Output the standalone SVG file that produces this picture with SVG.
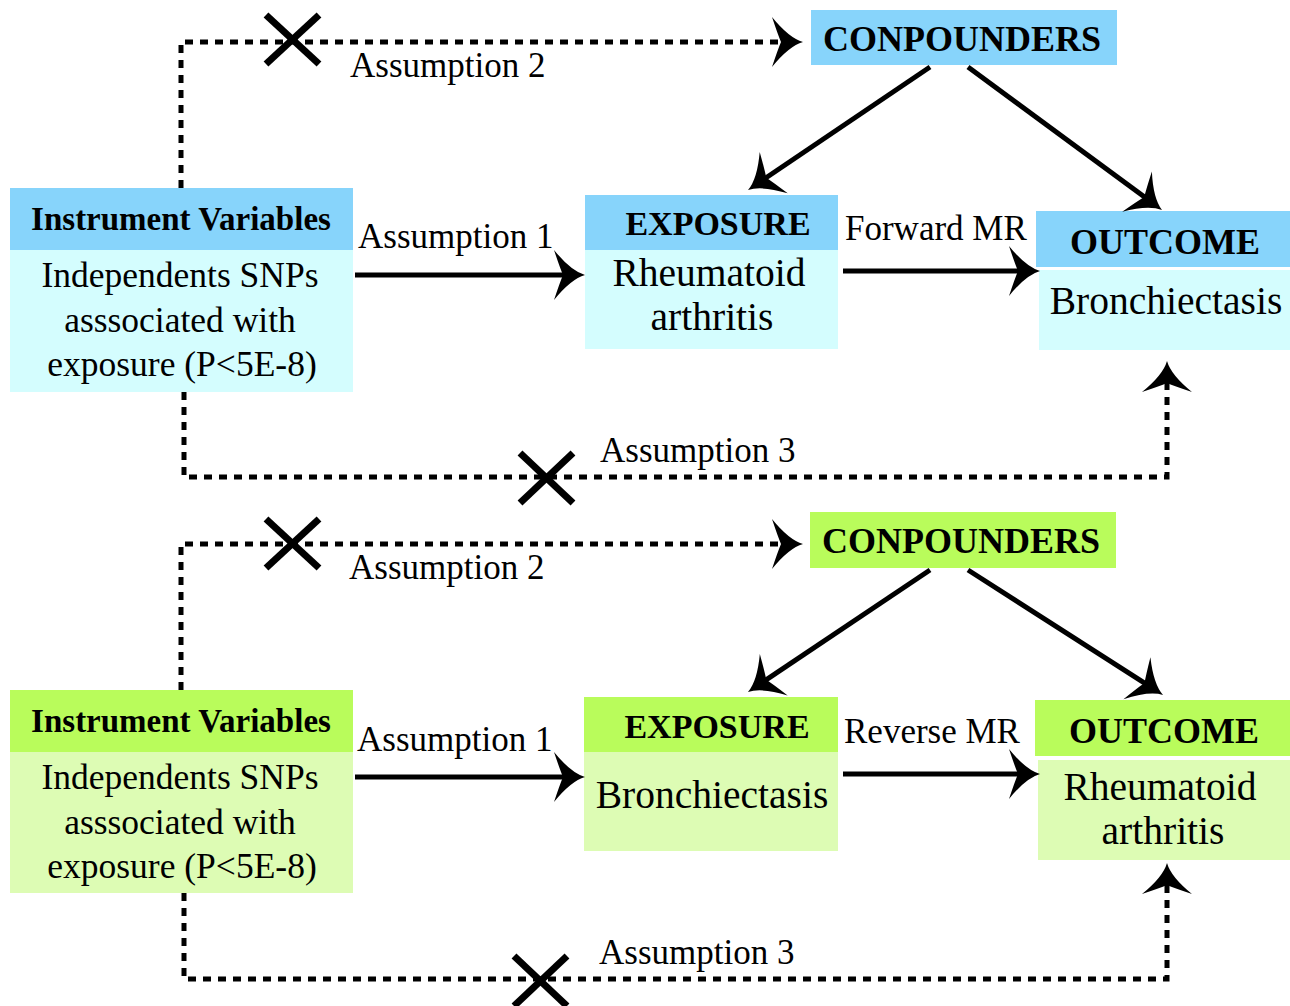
<svg xmlns="http://www.w3.org/2000/svg" width="1290" height="1006" viewBox="0 0 1290 1006">
<style>
.hb{fill:#87d4fb}.bb{fill:#d4fdfe}.hg{fill:#b9fc5b}.bg{fill:#ddfcb4}
text{font-family:"Liberation Serif","DejaVu Serif",serif;fill:#000}
.h{font-weight:bold;font-size:34px;text-anchor:middle}
.b{font-size:35.5px;text-anchor:middle}
.b2{font-size:39.5px;text-anchor:middle}
.l{font-size:35px}
.s{stroke:#000;stroke-width:5;fill:none}
.d{stroke:#000;stroke-width:5;fill:none;stroke-dasharray:8 7}
.x{stroke:#000;stroke-width:7}
</style>
<defs>
<marker id="ah" markerUnits="userSpaceOnUse" markerWidth="40" markerHeight="56" viewBox="-34 -28 40 56" refX="-20" refY="0" orient="auto">
<path d="M0,0 Q-14,-4 -31,-25 Q-25,-7 -22,0 Q-25,7 -31,25 Q-14,4 0,0 Z" fill="#000"/>
</marker>
</defs>

<!-- TOP -->
<g id="iv1"><rect class="hb" x="10" y="188" width="343" height="62"/><rect class="bb" x="10" y="250" width="343" height="142"/>
<text class="h" x="181" y="230" style="font-size:33px">Instrument Variables</text>
<text class="b" x="180" y="287">Independents SNPs</text><text class="b" x="180" y="332">asssociated with</text><text class="b" x="182" y="376">exposure (P&lt;5E-8)</text></g>
<g id="exp1"><rect class="hb" x="585" y="195" width="253" height="55"/><rect class="bb" x="585" y="250" width="253" height="99"/>
<text class="h" x="718" y="235">EXPOSURE</text><text class="b2" x="709" y="286">Rheumatoid</text><text class="b2" x="712" y="330">arthritis</text></g>
<g id="conf1"><rect class="hb" x="811" y="10" width="306" height="55"/><text class="h" x="962" y="51" style="font-size:36px">CONPOUNDERS</text></g>
<g id="out1"><rect class="hb" x="1036" y="211" width="254" height="56"/><rect class="bb" x="1039" y="270" width="251" height="80"/>
<text class="h" x="1165" y="254" style="font-size:36px">OUTCOME</text><text class="b2" x="1166" y="314">Bronchiectasis</text></g>

<!-- BOTTOM -->
<g id="iv2"><rect class="hg" x="10" y="690" width="343" height="62"/><rect class="bg" x="10" y="752" width="343" height="141"/>
<text class="h" x="181" y="732" style="font-size:33px">Instrument Variables</text>
<text class="b" x="180" y="789">Independents SNPs</text><text class="b" x="180" y="834">asssociated with</text><text class="b" x="182" y="878">exposure (P&lt;5E-8)</text></g>
<g id="exp2"><rect class="hg" x="584" y="697" width="254" height="55"/><rect class="bg" x="584" y="752" width="254" height="99"/>
<text class="h" x="717" y="738">EXPOSURE</text><text class="b2" x="712" y="808">Bronchiectasis</text></g>
<g id="conf2"><rect class="hg" x="810" y="512" width="306" height="56"/><text class="h" x="961" y="553" style="font-size:36px">CONPOUNDERS</text></g>
<g id="out2"><rect class="hg" x="1035" y="700" width="255" height="56"/><rect class="bg" x="1038" y="760" width="252" height="100"/>
<text class="h" x="1164" y="743" style="font-size:36px">OUTCOME</text><text class="b2" x="1160" y="800">Rheumatoid</text><text class="b2" x="1163" y="844">arthritis</text></g>

<g id="connectors">
<path class="d" d="M181,188 V42 H783" marker-end="url(#ah)"/>
<path class="d" d="M184,392 V477 H1167 V381" marker-end="url(#ah)"/>
<path class="s" d="M355,275 H565" marker-end="url(#ah)"/>
<path class="s" d="M843,271 H1020" marker-end="url(#ah)"/>
<path class="s" d="M930,67 L764.6,178.8" marker-end="url(#ah)"/>
<path class="s" d="M968,67 L1145.9,198.1" marker-end="url(#ah)"/>
<line class="x" x1="266" y1="15" x2="319" y2="64"/><line class="x" x1="319" y1="15" x2="266" y2="64"/>
<line class="x" x1="520" y1="453" x2="573" y2="503"/><line class="x" x1="573" y1="453" x2="520" y2="503"/>

<path class="d" d="M181,690 V544 H783" marker-end="url(#ah)"/>
<path class="d" d="M184,893 V979 H1167 V883" marker-end="url(#ah)"/>
<path class="s" d="M355,777 H565" marker-end="url(#ah)"/>
<path class="s" d="M843,774 H1020" marker-end="url(#ah)"/>
<path class="s" d="M930,570 L764.6,680.8" marker-end="url(#ah)"/>
<path class="s" d="M968,570 L1146.2,684.2" marker-end="url(#ah)"/>
<line class="x" x1="266" y1="519" x2="319" y2="568"/><line class="x" x1="319" y1="519" x2="266" y2="568"/>
<line class="x" x1="514" y1="956" x2="567" y2="1006"/><line class="x" x1="567" y1="956" x2="514" y2="1006"/>

<text class="l" x="350" y="77">Assumption 2</text>
<text class="l" x="358" y="248">Assumption 1</text>
<text class="l" x="845" y="240">Forward MR</text>
<text class="l" x="600" y="462">Assumption 3</text>
<text class="l" x="349" y="579">Assumption 2</text>
<text class="l" x="357" y="751">Assumption 1</text>
<text class="l" x="844" y="743">Reverse MR</text>
<text class="l" x="599" y="964">Assumption 3</text>
</g>
</svg>
